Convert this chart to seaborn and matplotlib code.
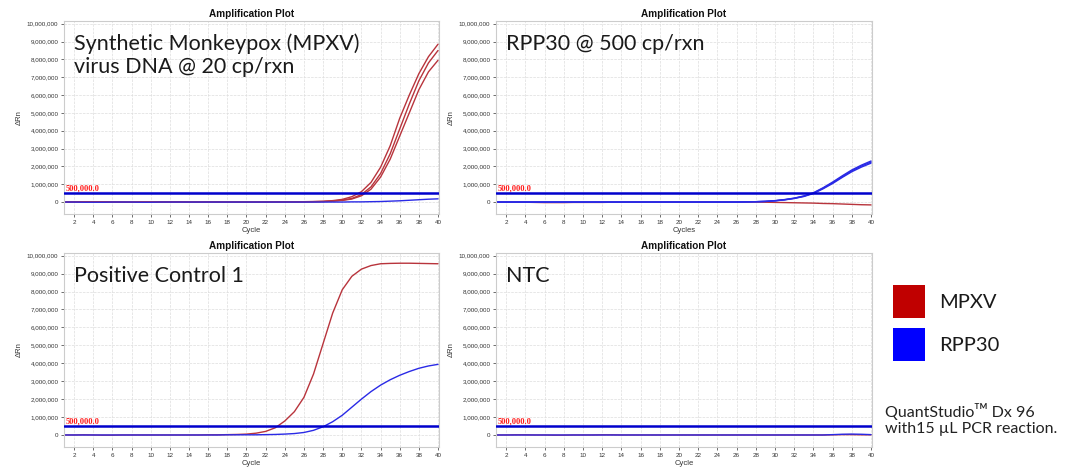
import pandas as pd
import matplotlib.pyplot as plt
import matplotlib.ticker as mticker
from matplotlib.patches import Patch
import seaborn as sns

# -----------------------------------------
# Data (delta Rn in millions, cycles 1-40)
# -----------------------------------------

cycles = list(range(1, 41))
threshold = 500000

# panel 1 : synthetic MPXV DNA @ 20 cp/rxn
p1_mpxv_a = [0.00, 0.01, 0.02, 0.02, 0.01, 0.00, -0.01, -0.01, 0.00, 0.00,
             0.01, 0.01, 0.01, 0.00, 0.00, 0.01, 0.01, 0.00, 0.00, 0.00,
             0.00, 0.01, 0.01, 0.01, 0.01, 0.02, 0.03, 0.04, 0.08, 0.15,
             0.30, 0.58, 1.10, 1.95, 3.15, 4.70, 6.00, 7.20, 8.15, 8.85]
p1_mpxv_b = [0.00, 0.01, 0.01, 0.02, 0.01, 0.00, 0.00, -0.01, 0.00, 0.00,
             0.00, 0.01, 0.01, 0.00, 0.00, 0.01, 0.00, 0.00, 0.00, 0.00,
             0.00, 0.00, 0.01, 0.01, 0.01, 0.01, 0.02, 0.03, 0.06, 0.11,
             0.20, 0.42, 0.85, 1.60, 2.70, 4.10, 5.50, 6.80, 7.80, 8.50]
p1_mpxv_c = [0.00, 0.00, 0.01, 0.01, 0.01, 0.00, 0.00, 0.00, 0.00, 0.00,
             0.00, 0.00, 0.01, 0.00, 0.00, 0.00, 0.00, 0.00, 0.00, 0.00,
             0.00, 0.00, 0.00, 0.01, 0.01, 0.01, 0.02, 0.03, 0.05, 0.09,
             0.17, 0.35, 0.72, 1.40, 2.40, 3.70, 5.00, 6.30, 7.30, 7.95]
p1_rpp30 = [0.00, 0.00, -0.01, -0.01, -0.01, 0.00, 0.00, 0.00, -0.01, -0.01,
            0.00, 0.00, 0.00, 0.00, 0.00, 0.00, 0.00, 0.00, 0.00, 0.00,
            0.00, 0.00, 0.00, 0.00, 0.00, 0.00, 0.00, 0.00, 0.00, 0.00,
            0.01, 0.01, 0.02, 0.03, 0.05, 0.07, 0.10, 0.13, 0.16, 0.18]

# panel 2 : RPP30 @ 500 cp/rxn
p2_rpp30_a = [0.00, 0.00, 0.00, 0.00, 0.00, 0.00, 0.00, 0.00, 0.00, 0.00,
              0.00, 0.00, 0.00, 0.00, 0.00, 0.00, 0.00, 0.00, 0.00, 0.00,
              0.00, 0.00, 0.00, 0.00, 0.00, 0.00, 0.01, 0.02, 0.04, 0.08,
              0.14, 0.22, 0.34, 0.52, 0.80, 1.12, 1.47, 1.80, 2.07, 2.30]
p2_rpp30_b = [0.00, 0.00, 0.00, 0.00, 0.00, 0.00, 0.00, 0.00, 0.00, 0.00,
              0.00, 0.00, 0.00, 0.00, 0.00, 0.00, 0.00, 0.00, 0.00, 0.00,
              0.00, 0.00, 0.00, 0.00, 0.00, 0.00, 0.01, 0.02, 0.04, 0.07,
              0.13, 0.21, 0.33, 0.50, 0.77, 1.08, 1.42, 1.75, 2.02, 2.24]
p2_rpp30_c = [0.00, 0.00, 0.00, 0.00, 0.00, 0.00, 0.00, 0.00, 0.00, 0.00,
              0.00, 0.00, 0.00, 0.00, 0.00, 0.00, 0.00, 0.00, 0.00, 0.00,
              0.00, 0.00, 0.00, 0.00, 0.00, 0.00, 0.01, 0.02, 0.03, 0.07,
              0.12, 0.20, 0.31, 0.48, 0.74, 1.04, 1.38, 1.70, 1.96, 2.18]
p2_mpxv = [0.00, 0.00, 0.00, -0.01, -0.02, -0.03, -0.03, -0.03, -0.02, -0.02,
           -0.02, -0.02, -0.01, -0.01, 0.00, 0.00, 0.00, 0.00, 0.00, 0.00,
           0.00, 0.00, 0.00, 0.00, 0.00, 0.00, 0.00, 0.00, -0.01, -0.02,
           -0.03, -0.04, -0.05, -0.06, -0.08, -0.09, -0.11, -0.13, -0.15, -0.16]

# panel 3 : positive control 1
p3_mpxv = [0.00, 0.00, 0.01, 0.00, -0.01, -0.01, 0.00, 0.00, 0.00, 0.00,
           0.00, 0.00, 0.00, 0.00, 0.00, 0.01, 0.01, 0.02, 0.03, 0.05,
           0.10, 0.20, 0.40, 0.78, 1.30, 2.10, 3.40, 5.10, 6.80, 8.10,
           8.85, 9.25, 9.45, 9.55, 9.57, 9.58, 9.58, 9.57, 9.56, 9.55]
p3_rpp30 = [0.00, 0.00, 0.00, 0.00, 0.00, 0.00, 0.00, 0.00, 0.00, 0.00,
            0.00, 0.00, 0.00, 0.00, 0.00, 0.00, 0.00, 0.01, 0.01, 0.01,
            0.01, 0.02, 0.03, 0.05, 0.08, 0.14, 0.26, 0.46, 0.74, 1.10,
            1.55, 2.00, 2.42, 2.78, 3.08, 3.33, 3.54, 3.72, 3.85, 3.94]

# panel 4 : NTC
p4_mpxv = [0.00, 0.00, 0.01, 0.01, 0.00, 0.00, -0.01, -0.01, 0.00, 0.00,
           0.00, 0.01, 0.01, 0.00, 0.00, 0.00, 0.00, 0.00, 0.00, 0.00,
           0.00, 0.00, 0.00, 0.00, 0.00, 0.00, 0.00, 0.00, 0.00, 0.00,
           0.00, 0.00, 0.00, 0.00, 0.00, 0.01, 0.02, 0.02, 0.01, 0.01]
p4_rpp30 = [0.00, 0.00, 0.00, 0.00, 0.00, 0.00, 0.00, 0.00, 0.00, 0.00,
            0.00, 0.00, 0.00, 0.00, 0.00, 0.00, 0.00, 0.00, 0.00, 0.00,
            0.00, 0.00, 0.00, 0.00, 0.00, 0.00, 0.00, 0.00, 0.00, 0.00,
            0.00, 0.00, 0.00, 0.00, 0.00, 0.02, 0.04, 0.05, 0.04, 0.02]

panel_labels = [
    "Synthetic Monkeypox (MPXV)\nvirus DNA @ 20 cp/rxn",
    "RPP30 @ 500 cp/rxn",
    "Positive Control 1",
    "NTC",
]
panel_wells = [
    {("MPXV", "A"): p1_mpxv_a, ("MPXV", "B"): p1_mpxv_b,
     ("MPXV", "C"): p1_mpxv_c, ("RPP30", "A"): p1_rpp30},
    {("MPXV", "A"): p2_mpxv, ("RPP30", "A"): p2_rpp30_a,
     ("RPP30", "B"): p2_rpp30_b, ("RPP30", "C"): p2_rpp30_c},
    {("MPXV", "A"): p3_mpxv, ("RPP30", "A"): p3_rpp30},
    {("MPXV", "A"): p4_mpxv, ("RPP30", "A"): p4_rpp30},
]
x_labels = ["Cycle", "Cycles", "Cycle", "Cycle"]

palette = {"MPXV": "#b8343c", "RPP30": "#2a2ae6"}

# -----------------------------------------
# Figure
# -----------------------------------------

sns.set_theme(style="white")
plt.rcParams["font.family"] = ["Liberation Sans", "DejaVu Sans"]

fig = plt.figure(figsize=(10.8, 4.72), dpi=100)

# axes boxes in pixels: left, top, right, bottom
boxes = [(64, 21, 439, 214), (496, 21, 872, 214),
         (64, 253, 439, 447), (496, 253, 872, 447)]


def to_long(wells):
    rows = []
    for (target, well), vals in wells.items():
        for c, v in zip(cycles, vals):
            rows.append([target, target + well, c, v * 1e6])
    return pd.DataFrame(rows, columns=["Target", "Well", "Cycle", "dRn"])


for i, (l, t, r, b) in enumerate(boxes):
    ax = fig.add_axes([l / 1080, 1 - b / 472, (r - l) / 1080, (b - t) / 472])
    df = to_long(panel_wells[i])

    sns.lineplot(data=df, x="Cycle", y="dRn", hue="Target", units="Well",
                 estimator=None, palette=palette, hue_order=["MPXV", "RPP30"],
                 linewidth=1.0, legend=False, sort=False, ax=ax)

    ax.axhline(threshold, color="#0000cc", lw=1.8, zorder=5)
    ax.text(1.1, threshold + 60000, "500,000.0", color="#ff1a1a",
            fontsize=6, family=["Liberation Serif", "DejaVu Serif"],
            fontweight="bold", va="bottom", ha="left")

    ax.set_xlim(0.95, 40.1)
    ax.set_ylim(-670000, 10150000)
    ax.set_xticks(range(2, 41, 2))
    ax.set_yticks(range(0, 10000001, 1000000))
    ax.yaxis.set_major_formatter(mticker.FuncFormatter(lambda v, p: f"{int(v):,}"))
    ax.tick_params(labelsize=4.5, colors="#333333", length=2, width=0.5, pad=2)
    ax.tick_params(axis="x", bottom=True)
    ax.tick_params(axis="y", left=True)

    ax.grid(True, color="#dddddd", linestyle="--", linewidth=0.5)
    for s in ax.spines.values():
        s.set_color("#cccccc")
        s.set_linewidth(0.8)

    ax.set_title("Amplification Plot", fontsize=7.2, fontweight="bold",
                 color="#111111", pad=3)
    ax.set_xlabel(x_labels[i], fontsize=5.5, color="#333333", labelpad=2)
    ax.set_ylabel("ΔRn", fontsize=5.5, color="#333333", labelpad=3)

    ax.text(0.027, 0.935, panel_labels[i], transform=ax.transAxes,
            fontsize=15.5, family=["Lato", "DejaVu Sans"],
            color="#1a1a1a", va="top", ha="left", linespacing=1.15)

# -----------------------------------------
# Legend and note
# -----------------------------------------

handles = [Patch(facecolor="#c00000", edgecolor="none", label="MPXV"),
           Patch(facecolor="#0000ff", edgecolor="none", label="RPP30")]
fig.legend(handles=handles, loc="upper left",
           bbox_to_anchor=(893 / 1080, 1 - 285 / 472),
           frameon=False, borderpad=0, borderaxespad=0,
           handlelength=1.6, handleheight=2.15, handletextpad=0.7,
           labelspacing=0.5, labelcolor="#1a1a1a",
           prop={"family": "Lato", "size": 14.5})

fig.text(885 / 1080, 1 - 403 / 472,
         "QuantStudio\u1d40\u1d39 Dx 96\nwith15 µL PCR reaction.",
         fontsize=11.5, family=["Lato", "DejaVu Sans"],
         color="#222222", va="top", ha="left", linespacing=1.2)

fig.savefig("out.png", dpi=100)
